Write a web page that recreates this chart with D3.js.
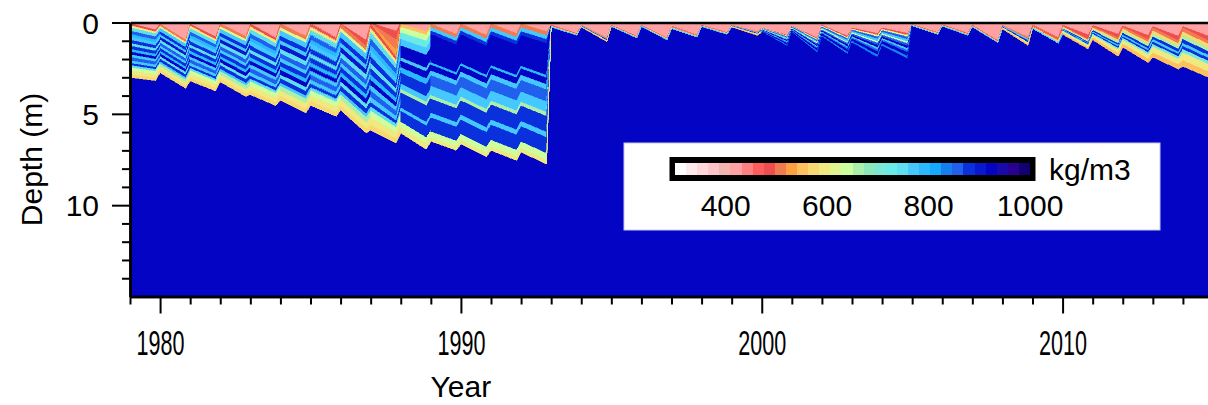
<!DOCTYPE html>
<html>
<head>
<meta charset="utf-8">
<script src="https://cdn.jsdelivr.net/npm/d3@7"></script>
<style>
  body { margin: 0; background: #fff; }
  svg { display: block; font-family: "Liberation Sans", Arial, Helvetica, sans-serif; }
  .axis path, .axis line { stroke: #000; }
  .axis text { fill: #000; }
</style>
</head>
<body>
<svg id="chart" width="1208" height="405"></svg>
<script>
// Colour table of the density legend (kg/m3), 32 steps from 300 to 1000
const densityColors = [
  "#ffffff", "#ffe9ec", "#ffd6da", "#ffc4c8", "#f3b4b0", "#ffa0a2", "#ff8080", "#ff5c5c",
  "#ee4e4e", "#f27a50", "#ffa040", "#ffc060", "#f8d870", "#eeea80", "#e0f590", "#ccff9e",
  "#aaf0aa", "#8ce8b8", "#7ae8d8", "#6aeae6", "#60def0", "#44c8ff", "#2ab8ff", "#14a8ff",
  "#1480f0", "#2060ec", "#0a30dc", "#0818cc", "#0404c4", "#1a08a8", "#2a0090", "#120070"
];
const legendTicks = [400, 600, 800, 1000];

const iceDensity = 920;     // everything below the firn

// One entry per model year; depths in metres
const years      = [1979, 1980, 1981, 1982, 1983, 1984, 1985, 1986, 1987, 1988, 1989, 1990, 1991, 1992, 1993, 1994, 1995, 1996,
                    1997, 1998, 1999, 2000, 2001, 2002, 2003, 2004, 2005, 2006, 2007, 2008, 2009, 2010, 2011, 2012, 2013, 2014];
const freshStart = [0.05, 0.08, 0.08, 0.08, 0.08, 0.08, 0.08, 0.08, 0.08, 0.08, 0.08, 0.08, 0.08, 0.08, 0.15, 0.15, 0.15, 0.15,
                    0.22, 0.15, 0.15, 0.30, 0.20, 0.15, 0.30, 0.30, 0.12, 0.12, 0.15, 0.15, 0.15, 0.20, 0.22, 0.25, 0.30, 0.30];
const freshEnd   = [0.40, 0.95, 0.80, 0.75, 0.85, 0.75, 0.85, 1.30, 1.90, 0.50, 0.65, 0.70, 0.60, 0.50, 0.60, 0.85, 0.75, 0.85,
                    0.70, 0.55, 0.50, 0.70, 0.85, 0.75, 0.60, 0.60, 0.55, 0.60, 1.00, 0.80, 0.85, 0.90, 0.85, 0.95, 1.00, 1.00];
const firnStart  = [3.00, 2.75, 3.20, 3.25, 3.95, 4.25, 4.55, 4.80, 5.90, 6.05, 6.50, 6.65, 7.00, 7.10, 0.25, 0.25, 0.22, 0.22,
                    0.35, 0.22, 0.25, 0.55, 0.60, 0.90, 1.25, 1.45, 0.18, 0.20, 0.25, 0.35, 0.35, 0.65, 0.95, 1.35, 1.90, 2.40];
const firnEnd    = [3.18, 3.60, 3.75, 4.05, 4.55, 4.95, 5.15, 6.05, 6.60, 6.95, 7.00, 7.35, 7.55, 7.75, 0.70, 1.05, 0.85, 0.95,
                    0.82, 0.65, 0.70, 1.40, 1.80, 1.90, 2.15, 2.25, 0.65, 0.70, 1.10, 1.25, 1.15, 1.45, 1.85, 2.20, 2.55, 3.00];
// which layer profile lies under the new snow, and how the new snow itself is split
const profileOf  = ["stripedA", "stripedB", "stripedA", "stripedB", "stripedA", "stripedB", "stripedA", "stripedB", "stripedA", "aqua",
                    "gap", "gap", "gap", "gap", "thin", "stripe", "thin", "thin", "thin", "thin", "stripe", "layered", "layered",
                    "layered", "layered", "layered", "thin", "thin", "thin", "stripe", "thin", "recent", "recent", "recent",
                    "recent", "recent"];
const freshOf    = ["plain", "plain", "plain", "plain", "plain", "plain", "plain", "reddish", "orange", "plain", "plain", "plain",
                    "plain", "plain", "plain", "plain", "plain", "plain", "plain", "plain", "plain", "plain", "plain", "plain",
                    "plain", "plain", "plain", "plain", "plain", "plain", "plain", "reddish", "reddish", "reddish", "reddish",
                    "reddish"];

// New snow: [fraction of new-snow thickness, density]
const freshPlain   = [[1.00, 415]];
const freshReddish = [[0.75, 415], [1.00, 475]];
const freshOrange  = [[0.25, 415], [0.50, 480], [0.80, 505], [1.00, 535]];

// Older layers: [fraction of column between new snow and firn base, density]
const profStripedA = [[0.04, 490], [0.08, 600], [0.14, 750], [0.20, 860], [0.25, 800], [0.31, 770], [0.37, 870], [0.42, 750],
                      [0.48, 880], [0.53, 790], [0.58, 920], [0.63, 760], [0.69, 860], [0.74, 780], [0.78, 870], [0.82, 750],
                      [0.88, 640], [0.95, 600], [1.00, 570]];
const profStripedB = [[0.05, 500], [0.09, 620], [0.16, 760], [0.22, 870], [0.27, 780], [0.33, 900], [0.39, 750], [0.45, 860],
                      [0.50, 770], [0.56, 880], [0.61, 790], [0.67, 920], [0.72, 740], [0.78, 870], [0.82, 770], [0.88, 650],
                      [0.95, 600], [1.00, 570]];
const profAqua     = [[0.03, 560], [0.08, 640], [0.14, 720], [0.20, 780], [0.31, 920], [0.34, 770], [0.40, 920], [0.45, 790],
                      [0.55, 870], [0.60, 760], [0.63, 670], [0.77, 870], [0.80, 770], [0.90, 870], [0.95, 640], [1.00, 600]];
const profGap      = [[0.03, 500], [0.06, 760], [0.09, 870], [0.33, 920], [0.35, 790], [0.40, 920], [0.44, 760], [0.53, 860],
                      [0.61, 760], [0.64, 660], [0.76, 870], [0.80, 770], [0.92, 870], [0.97, 640], [1.00, 600]];
const profThin     = [[0.40, 480], [0.65, 540], [0.85, 620], [1.00, 760]];
const profStripe   = [[0.25, 500], [0.45, 760], [0.65, 870], [0.85, 600], [1.00, 560]];
const profLayered  = [[0.06, 490], [0.12, 620], [0.20, 850], [0.28, 760], [0.34, 640], [0.42, 860], [0.50, 920], [0.57, 780],
                      [0.64, 860], [0.76, 920], [0.85, 840], [1.00, 920]];
const profRecent   = [[0.10, 500], [0.20, 580], [0.30, 660], [0.40, 870], [0.48, 770], [0.56, 880], [0.65, 700], [0.85, 590],
                      [1.00, 550]];
const profiles = {
  stripedA: profStripedA, stripedB: profStripedB, aqua: profAqua, gap: profGap,
  thin: profThin, stripe: profStripe, layered: profLayered, recent: profRecent
};
const freshProfiles = { plain: freshPlain, reddish: freshReddish, orange: freshOrange };

const troughAt = 0.85;   // deepest point of each yearly cycle
const depthMajor = [0, 5, 10];
const depthMinor = [1, 2, 3, 4, 6, 7, 8, 9, 11, 12, 13, 14];
const yearMajor = [1980, 1990, 2000, 2010];

// ---- scales ----
const svg = d3.select('#chart');
const x = d3.scaleLinear().domain([1979, 2015]).range([130, 1213]);
const y = d3.scaleLinear().domain([0, 15]).range([22.5, 296.5]);
const color = d3.scaleQuantize().domain([300, 1000]).range(densityColors);

svg.append('defs').append('clipPath').attr('id', 'plotClip')
  .append('rect')
  .attr('x', x.range()[0]).attr('y', y.range()[0])
  .attr('width', x.range()[1] - x.range()[0])
  .attr('height', y.range()[1] - y.range()[0]);

const plot = svg.append('g').attr('clip-path', 'url(#plotClip)');

plot.append('rect')
  .attr('x', x.range()[0]).attr('y', y.range()[0])
  .attr('width', x.range()[1] - x.range()[0])
  .attr('height', y.range()[1] - y.range()[0])
  .attr('fill', color(iceDensity));

const area = d3.area()
  .x(d => x(d.t))
  .y0(d => y(d.top))
  .y1(d => y(d.bot));

// split a column [top, bottom] (arrays over the knots) into bands of a profile
function bands(profile, ts, top, bot) {
  let f0 = 0;
  return profile.map(([f1, dens]) => {
    const a = f0;
    f0 = f1;
    return {
      dens,
      pts: ts.map((t, k) => {
        const h = bot[k] - top[k];
        return { t, top: top[k] + a * h, bot: top[k] + f1 * h };
      })
    };
  });
}

// build the layers of each year
years.forEach((yr, i) => {
  const last = i === years.length - 1;
  const ts = [yr, yr + troughAt, yr + 1];
  const surface = [0, 0, 0];
  const fresh = [freshStart[i], freshEnd[i], last ? freshEnd[i] : freshStart[i + 1]];
  const firn = [firnStart[i], firnEnd[i], last ? firnEnd[i] : firnStart[i + 1]];

  const layers = bands(freshProfiles[freshOf[i]], ts, surface, fresh)
    .concat(bands(profiles[profileOf[i]], ts, fresh, firn));

  plot.append('g')
    .selectAll('path')
    .data(layers)
    .join('path')
    .attr('d', d => area(d.pts))
    .attr('fill', d => color(d.dens))
    .attr('stroke', d => color(d.dens))
    .attr('stroke-width', 0.6)
    .attr('shape-rendering', 'crispEdges');
});

// ---- axes ----
const axisStyle = g => {
  g.attr('class', 'axis');
  g.selectAll('.domain').attr('stroke-width', 2.5);
  g.selectAll('.tick line').attr('stroke-width', 2);
};

// depth axis
svg.append('g')
  .attr('transform', `translate(${x.range()[0]},0)`)
  .call(d3.axisLeft(y).tickValues(depthMinor).tickSize(8).tickSizeOuter(0).tickFormat(''))
  .call(axisStyle);
svg.append('g')
  .attr('transform', `translate(${x.range()[0]},0)`)
  .call(d3.axisLeft(y).tickValues(depthMajor).tickSize(18).tickSizeOuter(0).tickPadding(13))
  .call(axisStyle)
  .call(g => g.selectAll('text').attr('font-size', 30).attr('dy', '0.35em'));

// year axis
const yearMinor = years.filter(v => !yearMajor.includes(v));
svg.append('g')
  .attr('transform', `translate(0,${y.range()[1]})`)
  .call(d3.axisBottom(x).tickValues(yearMinor).tickSize(8).tickSizeOuter(0).tickFormat(''))
  .call(axisStyle);
svg.append('g')
  .attr('transform', `translate(0,${y.range()[1]})`)
  .call(d3.axisBottom(x).tickValues(yearMajor).tickSize(17).tickSizeOuter(0).tickPadding(16).tickFormat(d3.format('d')))
  .call(axisStyle)
  .call(g => g.selectAll('text').attr('font-size', 36).attr('transform', 'scale(0.6,1)'));

// top frame line
svg.append('g')
  .attr('transform', `translate(0,${y.range()[0]})`)
  .call(d3.axisTop(x).tickValues([]).tickSizeOuter(0))
  .call(axisStyle);

// axis titles
svg.append('text')
  .attr('transform', `translate(42,${(y.range()[0] + y.range()[1]) / 2}) rotate(-90)`)
  .attr('text-anchor', 'middle')
  .attr('font-size', 30)
  .text('Depth (m)');

svg.append('text')
  .attr('x', x(1990))
  .attr('y', 397)
  .attr('text-anchor', 'middle')
  .attr('font-size', 30)
  .text('Year');

// ---- colour bar legend ----
const legend = svg.append('g');
legend.append('rect')
  .attr('x', 624).attr('y', 143).attr('width', 536).attr('height', 87)
  .attr('fill', '#fff').attr('stroke', '#c8c8f0').attr('stroke-width', 1);

const lx = d3.scaleLinear().domain([300, 1000]).range([675, 1030]);
const step = (1000 - 300) / densityColors.length;
legend.append('rect')
  .attr('x', lx(300) - 5.5).attr('y', 157)
  .attr('width', lx(1000) - lx(300) + 11).attr('height', 24)
  .attr('fill', '#000');
legend.append('g')
  .selectAll('rect')
  .data(densityColors)
  .join('rect')
  .attr('x', (d, i) => lx(300 + i * step))
  .attr('y', 163)
  .attr('width', lx(300 + step) - lx(300) + 0.3)
  .attr('height', 12)
  .attr('fill', d => d)
  .attr('shape-rendering', 'crispEdges');

legend.append('g')
  .selectAll('text')
  .data(legendTicks)
  .join('text')
  .attr('x', d => lx(d))
  .attr('y', 216)
  .attr('text-anchor', 'middle')
  .attr('font-size', 30)
  .text(d => d);

legend.append('text')
  .attr('x', 1049)
  .attr('y', 180)
  .attr('font-size', 30)
  .text('kg/m3');
</script>
</body>
</html>
